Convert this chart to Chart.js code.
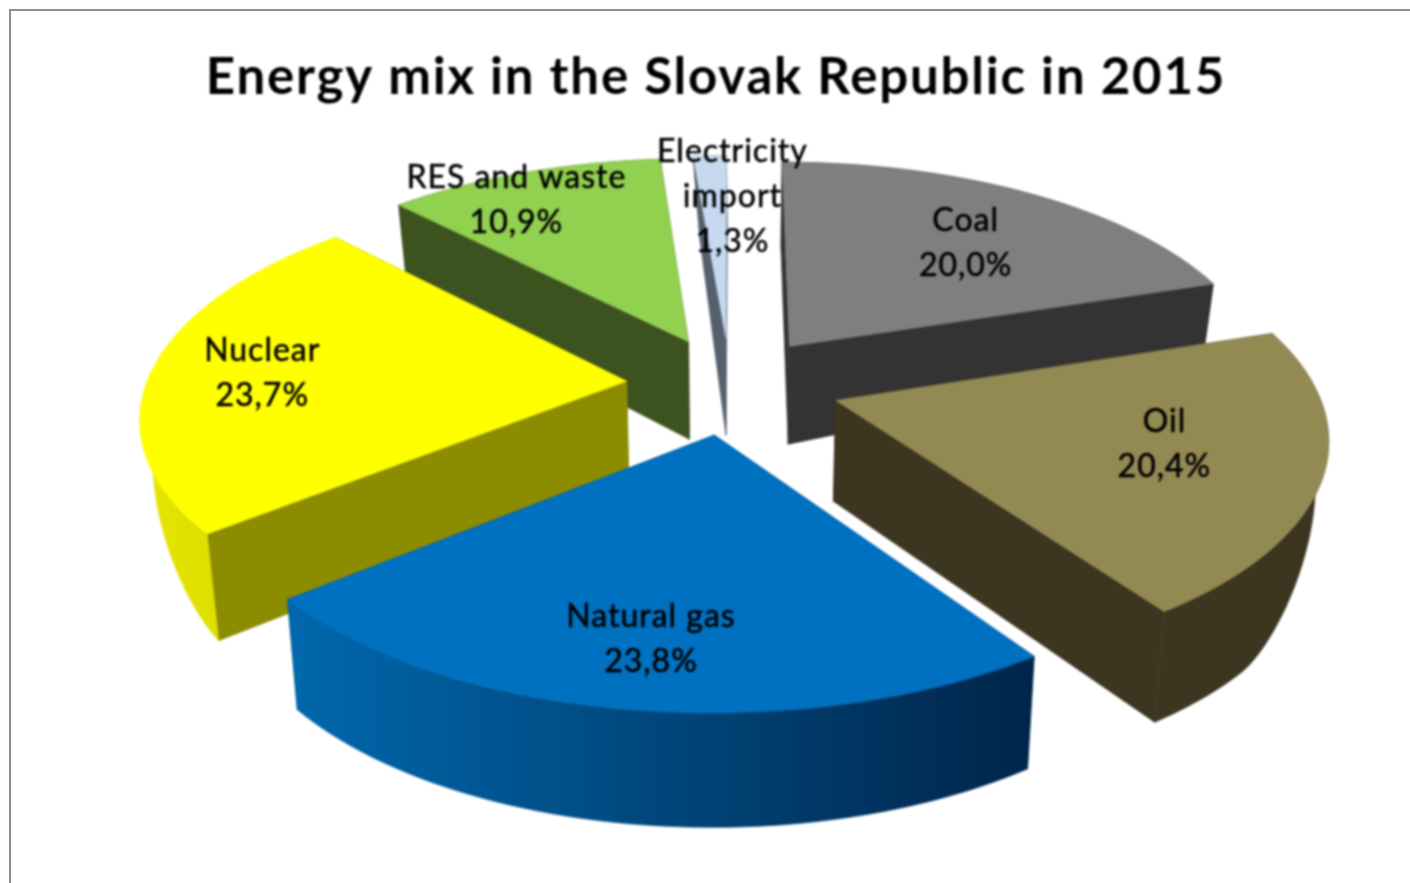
<!DOCTYPE html>
<html>
<head>
<meta charset="utf-8">
<title>Energy mix in the Slovak Republic in 2015</title>
<script src="https://cdn.jsdelivr.net/npm/chart.js@4"></script>
<style>
    html, body { margin: 0; width: 1410px; height: 883px; overflow: hidden; background: #fff; }
    #frame { position: absolute; left: 9px; top: 9px; width: 1420px; height: 900px; border: 2px solid #8f8f8f; }
    #pie { position: absolute; left: 0; top: 0; filter: blur(0.8px); }
</style>
</head>
<body>
<div id="frame"></div>
<canvas id="pie" width="1410" height="883"></canvas>
<script>
    const categories = ['Coal', 'Oil', 'Natural gas', 'Nuclear', 'RES and waste', 'Electricity\nimport'];
    const shares = [20.0, 20.4, 23.8, 23.7, 10.9, 1.3];

    // slice colours: top, flat cut side, round side (left and right end of the gradient)
    const topColors = ['#7f7f7f', '#938953', '#0070c0', '#ffff00', '#92d050', '#c6d9f1'];
    const sideColors = ['#333333', '#3c3520', '#003a66', '#8c8c00', '#3c5320', '#55606e'];
    const rimLeft = ['#333333', '#3c3520', '#0068ad', '#e6e600', '#3c5320', '#55606e'];
    const rimRight = ['#333333', '#3c3520', '#00254a', '#d2d200', '#3c5320', '#55606e'];

    // how far each slice is pulled out
    const explode = [96, 102, 100, 96, 96, 96];

    // label shift from the middle of the slice, in pixels
    const labelNudge = [[21, -5], [32, -2], [-14, 45], [-70, 0], [-65, -32], [17, -23]];

    // camera used to tilt the flat pie
    const view = { shiftX: 14, size: 480, tilt: 221, persp: 0.145, depth: 100, depthPersp: 12, foot: 0.978, steps: 60 };

    // u, v are in pie radii, v grows towards the viewer
    function project(el, u, v, low) {
        const k = 1 / (1 - view.persp * v);
        const cx = el.x + view.shiftX;
        let x = view.size * u * k;
        let y = el.y + view.tilt * v * k;
        if (low) {
            x *= view.foot;
            // far rim left of centre drifts right, far left and right the wall gets shorter
            if (v < -0.8 && u < 0) x += (-v - 0.8) * 15 * Math.min(1, -u * 15);
            y += view.depth + view.depthPersp * v;
            y -= 70 * Math.pow(Math.max(0, (Math.abs(u) - 0.98) / 0.24), 1.5);
        }
        return [cx + x, y];
    }

    function blast(el) {
        const mid = (el.startAngle + el.endAngle) / 2;
        const e = el.options.offset / 2 / el.outerRadius;
        return [Math.cos(mid) * e, Math.sin(mid) * e];
    }

    function rimPoints(el, low) {
        const [ex, ey] = blast(el);
        const pts = [];
        for (let i = 0; i <= view.steps; i++) {
            const a = el.startAngle + (el.endAngle - el.startAngle) * i / view.steps;
            pts.push(project(el, ex + Math.cos(a), ey + Math.sin(a), low));
        }
        return pts;
    }

    function fillPoly(ctx, pts, fill) {
        ctx.beginPath();
        pts.forEach((p, i) => i ? ctx.lineTo(p[0], p[1]) : ctx.moveTo(p[0], p[1]));
        ctx.closePath();
        ctx.fillStyle = fill;
        ctx.strokeStyle = fill;
        ctx.lineWidth = 0.6;
        ctx.fill();
        ctx.stroke();
    }

    const pie3d = {
        id: 'pie3d',
        beforeDraw(chart) {
            chart.ctx.letterSpacing = '1.8px';
        },
        beforeDatasetDraw(chart, args) {
            const ctx = chart.ctx;
            const arcs = chart.getDatasetMeta(args.index).data;
            // back slices first so the front ones cover them
            const order = arcs.map((el, i) => i).sort((a, b) => blast(arcs[a])[1] - blast(arcs[b])[1]);
            order.forEach(i => {
                const el = arcs[i];
                const [ex, ey] = blast(el);
                const top = rimPoints(el, false);
                const low = rimPoints(el, true);
                const tip = project(el, ex, ey, false);
                const tipLow = project(el, ex, ey, true);
                fillPoly(ctx, [tip, top[0], low[0], tipLow], sideColors[i]);
                fillPoly(ctx, [tip, top[top.length - 1], low[low.length - 1], tipLow], sideColors[i]);
                const xs = top.map(p => p[0]);
                const grad = ctx.createLinearGradient(Math.min(...xs), 0, Math.max(...xs), 0);
                grad.addColorStop(0, rimLeft[i]);
                grad.addColorStop(1, rimRight[i]);
                fillPoly(ctx, top.concat(low.slice().reverse()), grad);
                fillPoly(ctx, [tip].concat(top), el.options.backgroundColor);
            });
            return false;
        },
        afterDatasetsDraw(chart) {
            const ctx = chart.ctx;
            const arcs = chart.getDatasetMeta(0).data;
            ctx.save();
            ctx.letterSpacing = '1px';
            ctx.font = '32px Lato';
            ctx.fillStyle = '#000';
            ctx.strokeStyle = '#000';
            ctx.lineWidth = 0.5;
            ctx.textAlign = 'center';
            ctx.textBaseline = 'middle';
            arcs.forEach((el, i) => {
                const [ex, ey] = blast(el);
                const mid = (el.startAngle + el.endAngle) / 2;
                const p = project(el, ex + 0.62 * Math.cos(mid), ey + 0.62 * Math.sin(mid), false);
                const lines = categories[i].split('\n');
                lines.push(shares[i].toFixed(1).replace('.', ',') + '%');
                lines.forEach((t, n) => {
                    const y = p[1] + labelNudge[i][1] + (n - (lines.length - 1) / 2) * 45;
                    ctx.fillText(t, p[0] + labelNudge[i][0], y);
                    ctx.strokeText(t, p[0] + labelNudge[i][0], y);
                });
            });
            ctx.restore();
        }
    };

    new Chart(document.getElementById('pie'), {
        type: 'pie',
        data: {
            labels: categories,
            datasets: [{ data: shares, backgroundColor: topColors, offset: explode, borderWidth: 0, hoverOffset: 0 }]
        },
        options: {
            responsive: false,
            animation: false,
            devicePixelRatio: 1,
            layout: { padding: { left: 22, bottom: 226 } },
            plugins: {
                legend: { display: false },
                tooltip: { enabled: false },
                title: {
                    display: true,
                    text: 'Energy mix in the Slovak Republic in 2015',
                    color: '#000',
                    font: { family: 'Lato', size: 51, weight: 'bold', lineHeight: 1.2 },
                    padding: { top: 47, bottom: 3 }
                }
            }
        },
        plugins: [pie3d]
    });
</script>
</body>
</html>
